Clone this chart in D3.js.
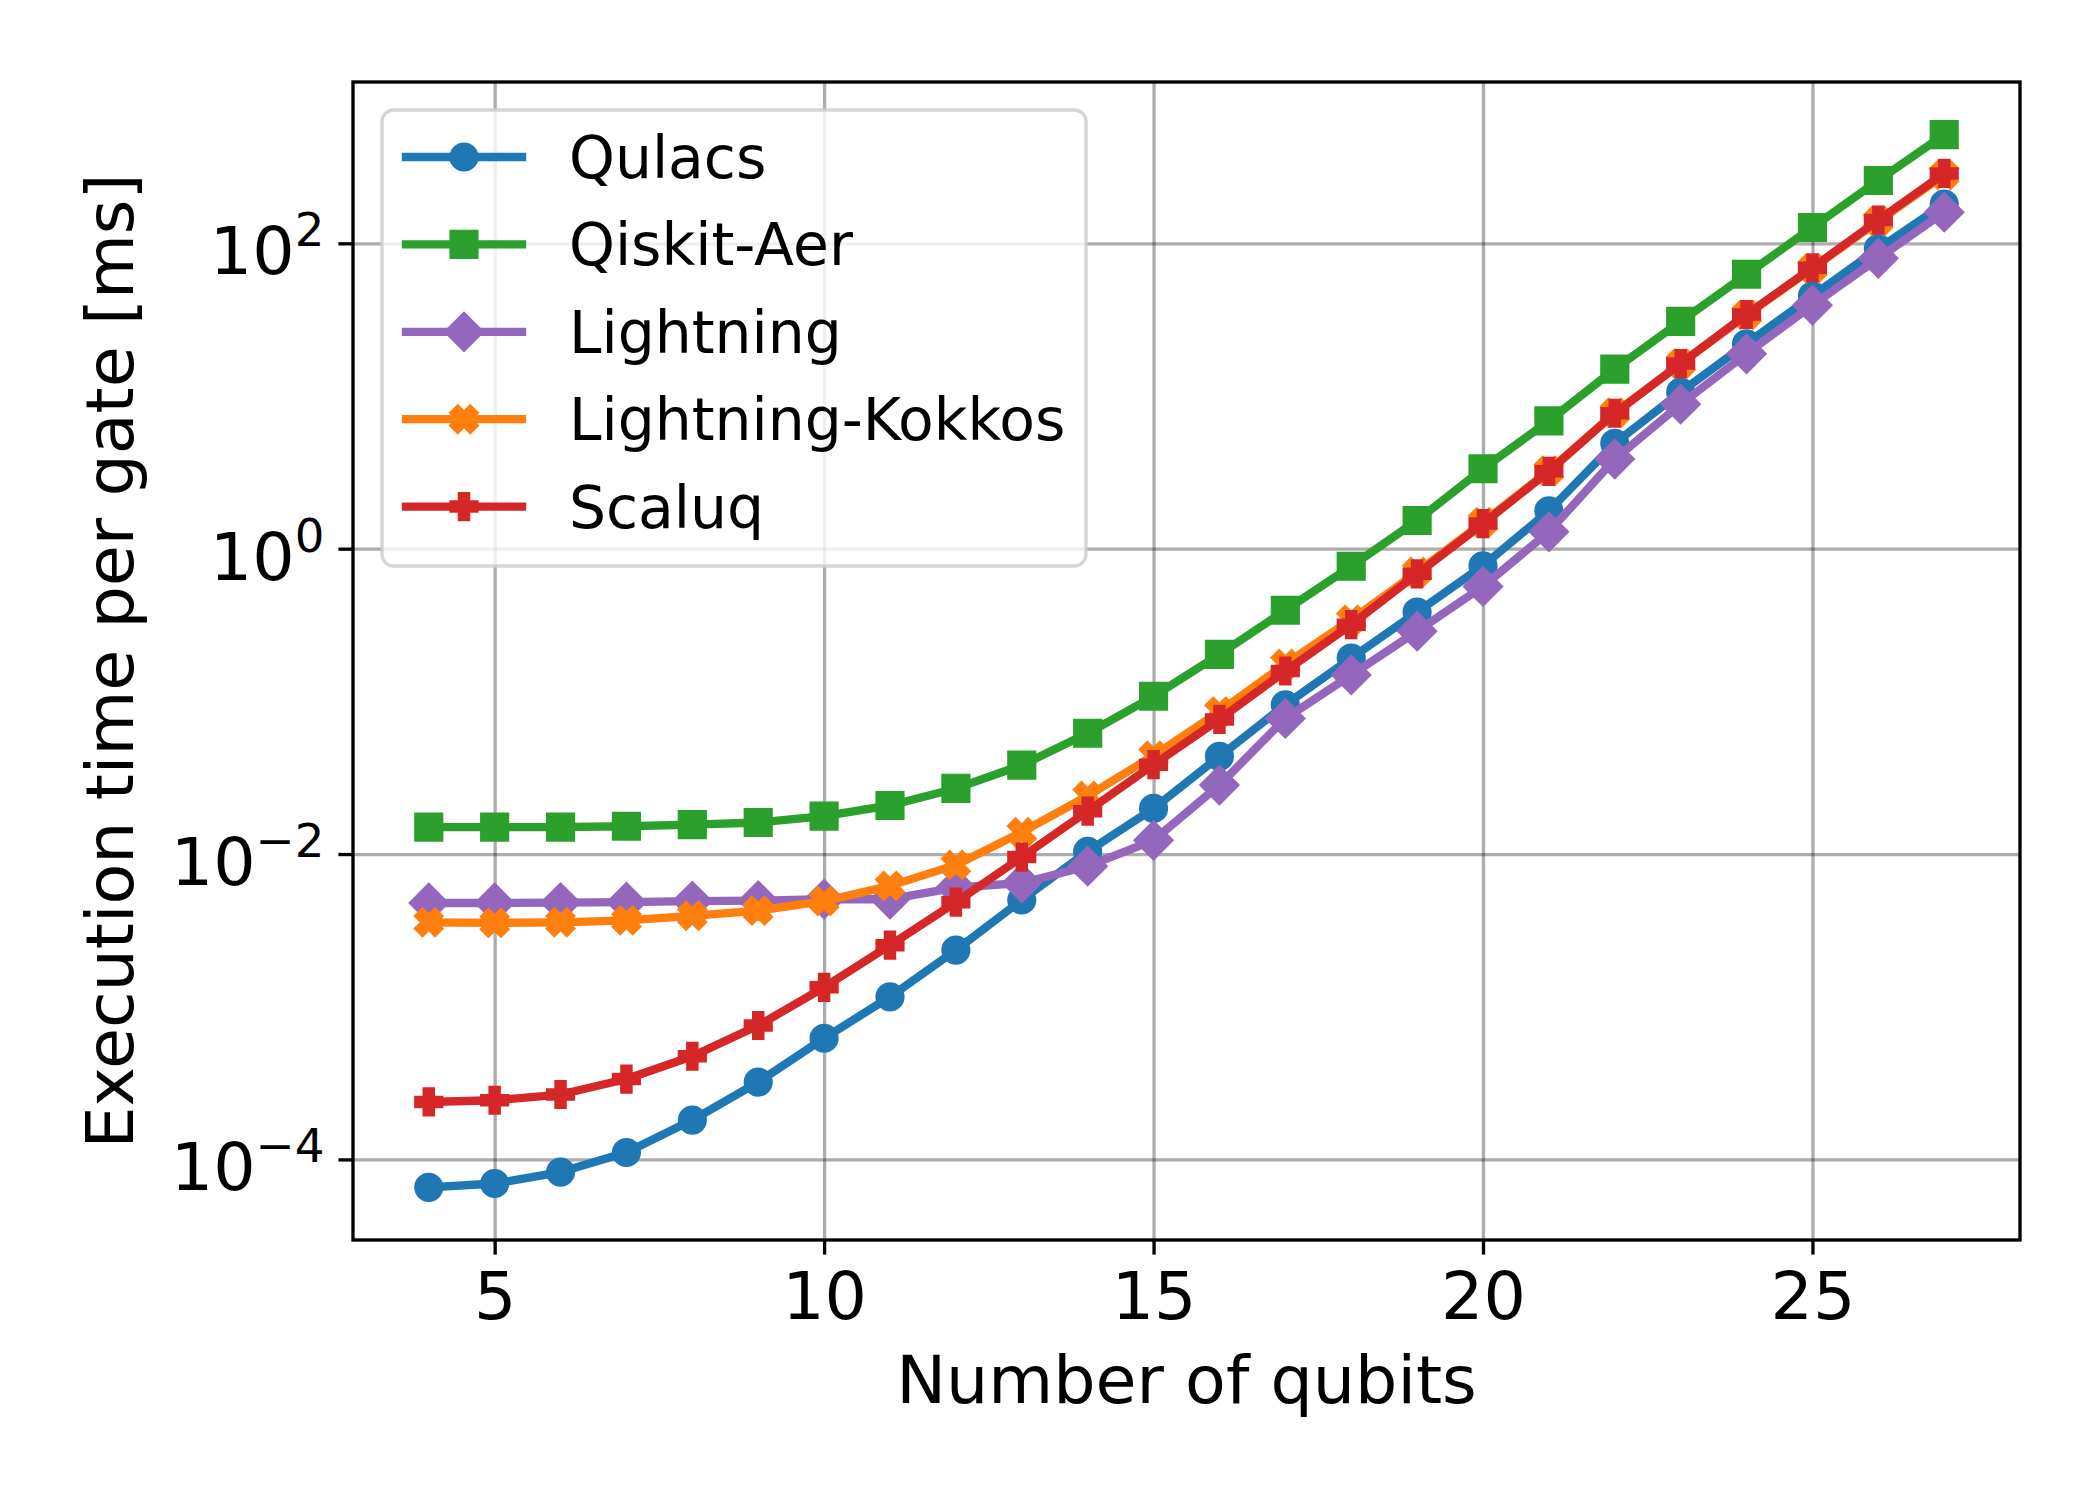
<!DOCTYPE html>
<html>
<head>
<meta charset="utf-8">
<script src="https://cdn.jsdelivr.net/npm/d3@7"></script>
<style>
  html, body { margin: 0; padding: 0; background: #ffffff; }
  svg { display: block; }
</style>
</head>
<body>
<svg id="chart" width="2100" height="1500"></svg>
<script>
// ---------------- DATA (ms) ----------------
const qubits = [4, 5, 6, 7, 8, 9, 10, 11, 12, 13, 14, 15, 16, 17, 18, 19, 20, 21, 22, 23, 24, 25, 26, 27];

const qulacs = [6.56e-5, 6.95e-5, 8.26e-5, 1.11e-4, 1.81e-4, 3.21e-4, 6.22e-4, 1.16e-3, 2.35e-3, 5.0e-3,
                1.04e-2, 1.99e-2, 4.36e-2, 9.5e-2, 0.192, 0.384, 0.773, 1.77, 4.90, 10.6,
                22.0, 45.3, 92.3, 181];

const qiskitAer = [1.50e-2, 1.50e-2, 1.50e-2, 1.52e-2, 1.56e-2, 1.61e-2, 1.77e-2, 2.08e-2, 2.69e-2, 3.82e-2,
                   6.18e-2, 0.108, 0.203, 0.395, 0.767, 1.53, 3.34, 6.87, 15.0, 30.8,
                   62.7, 127, 258, 515];

const lightning = [4.78e-3, 4.78e-3, 4.81e-3, 4.84e-3, 4.92e-3, 4.95e-3, 5.06e-3, 5.06e-3, 6.03e-3, 6.46e-3,
                   8.32e-3, 1.23e-2, 2.83e-2, 7.73e-2, 0.149, 0.288, 0.566, 1.29, 3.86, 8.83,
                   18.9, 39.3, 79.8, 160];

const lightningKokkos = [3.57e-3, 3.54e-3, 3.57e-3, 3.68e-3, 3.94e-3, 4.26e-3, 4.92e-3, 6.19e-3, 8.49e-3, 1.39e-2,
                         2.40e-2, 4.41e-2, 8.57e-2, 0.176, 0.342, 0.703, 1.49, 3.24, 7.76, 16.3,
                         34.0, 68.5, 140, 280];

const scaluq = [2.38e-4, 2.44e-4, 2.66e-4, 3.36e-4, 4.74e-4, 7.53e-4, 1.34e-3, 2.53e-3, 4.84e-3, 9.55e-3,
                1.91e-2, 3.85e-2, 7.62e-2, 0.158, 0.318, 0.684, 1.46, 3.21, 7.71, 16.3,
                34.2, 69.2, 142, 287];

const seriesNames   = ["Qulacs", "Qiskit-Aer", "Lightning", "Lightning-Kokkos", "Scaluq"];
const seriesValues  = [qulacs, qiskitAer, lightning, lightningKokkos, scaluq];
const seriesColors  = ["#1f77b4", "#2ca02c", "#9467bd", "#ff7f0e", "#d62728"];
const seriesMarkers = ["circle", "square", "diamond", "xfilled", "plusfilled"];

const xTickValues = [5, 10, 15, 20, 25];
const yTickExponents = [-4, -2, 0, 2];

const xLabel = "Number of qubits";
const yLabel = "Execution time per gate [ms]";

// ---------------- LAYOUT ----------------
const PT = 300 / 72;               // px per point (figure at 300 dpi)
const plot = { left: 353, right: 2020, top: 82, bottom: 1240 };
const fontFamily = "'DejaVu Sans', 'Liberation Sans', sans-serif";
const tickFont = 16 * PT;
const legendFont = 14 * PT;
const lineW = 2 * PT;
const markerSize = 6 * PT;
const markerEdge = 1 * PT;
const tickLen = 3.5 * PT;
const tickPad = 3.5 * PT;
const spineW = 0.8 * PT;

const svg = d3.select("#chart");
svg.append("rect").attr("width", 2100).attr("height", 1500).attr("fill", "#ffffff");

// ---------------- SCALES (matplotlib-style 5% margins) ----------------
const xMin = d3.min(qubits), xMax = d3.max(qubits);
const xPad = (xMax - xMin) * 0.05;
const x = d3.scaleLinear().domain([xMin - xPad, xMax + xPad]).range([plot.left, plot.right]);

const allVals = seriesValues.flat();
const lMin = Math.log10(d3.min(allVals)), lMax = Math.log10(d3.max(allVals));
const lPad = (lMax - lMin) * 0.05;
const y = d3.scaleLog().domain([Math.pow(10, lMin - lPad), Math.pow(10, lMax + lPad)])
  .range([plot.bottom, plot.top]);

const yTickValues = yTickExponents.map(e => Math.pow(10, e));

// ---------------- GRID ----------------
const gridColor = "#000000";
const gridOpacity = 0.32;
const gridG = svg.append("g").attr("class", "grid");
gridG.append("g")
  .attr("transform", `translate(0,${plot.bottom})`)
  .call(d3.axisBottom(x).tickValues(xTickValues).tickSize(-(plot.bottom - plot.top)).tickFormat(""))
  .call(g => g.select(".domain").remove())
  .call(g => g.selectAll("line").attr("stroke", gridColor).attr("stroke-opacity", gridOpacity).attr("stroke-width", spineW));
gridG.append("g")
  .attr("transform", `translate(${plot.left},0)`)
  .call(d3.axisLeft(y).tickValues(yTickValues).tickSize(-(plot.right - plot.left)).tickFormat(""))
  .call(g => g.select(".domain").remove())
  .call(g => g.selectAll("line").attr("stroke", gridColor).attr("stroke-opacity", gridOpacity).attr("stroke-width", spineW));

// ---------------- MARKERS ----------------
function markerPath(type, s) {
  const h = s / 2;
  if (type === "circle") {
    return `M${h},0A${h},${h} 0 1,1 ${-h},0A${h},${h} 0 1,1 ${h},0Z`;
  }
  if (type === "square") {
    return `M${-h},${-h}L${h},${-h}L${h},${h}L${-h},${h}Z`;
  }
  if (type === "diamond") {
    const d = s * Math.SQRT2 / 2;
    return `M0,${-d}L${d},0L0,${d}L${-d},0Z`;
  }
  if (type === "plusfilled") {
    const pts = [[-1,-3],[1,-3],[1,-1],[3,-1],[3,1],[1,1],[1,3],[-1,3],[-1,1],[-3,1],[-3,-1],[-1,-1]];
    return "M" + pts.map(p => `${p[0] / 6 * s},${p[1] / 6 * s}`).join("L") + "Z";
  }
  if (type === "xfilled") {
    const pts = [[-1,-2],[0,-1],[1,-2],[2,-1],[1,0],[2,1],[1,2],[0,1],[-1,2],[-2,1],[-1,0],[-2,-1]];
    return "M" + pts.map(p => `${p[0] / 4 * s},${p[1] / 4 * s}`).join("L") + "Z";
  }
  return "";
}

// ---------------- SERIES ----------------
svg.append("clipPath").attr("id", "plotClip")
  .append("rect").attr("x", plot.left).attr("y", plot.top)
  .attr("width", plot.right - plot.left).attr("height", plot.bottom - plot.top);

const seriesG = svg.append("g").attr("clip-path", "url(#plotClip)");
const line = d3.line().x(d => x(d.q)).y(d => y(d.v));

seriesNames.forEach((name, i) => {
  const pts = qubits.map((q, j) => ({ q, v: seriesValues[i][j] }));
  const g = seriesG.append("g").attr("class", "series");
  g.append("path")
    .datum(pts)
    .attr("d", line)
    .attr("fill", "none")
    .attr("stroke", seriesColors[i])
    .attr("stroke-width", lineW)
    .attr("stroke-linejoin", "round")
    .attr("stroke-linecap", "square");
  g.selectAll("path.marker")
    .data(pts)
    .join("path")
    .attr("class", "marker")
    .attr("transform", d => `translate(${x(d.q)},${y(d.v)})`)
    .attr("d", markerPath(seriesMarkers[i], markerSize))
    .attr("fill", seriesColors[i])
    .attr("stroke", seriesColors[i])
    .attr("stroke-width", markerEdge)
    .attr("stroke-linejoin", "miter");
});

// ---------------- AXES ----------------
const xAxisG = svg.append("g")
  .attr("transform", `translate(0,${plot.bottom})`)
  .call(d3.axisBottom(x).tickValues(xTickValues).tickSize(tickLen).tickPadding(tickPad).tickFormat(d3.format("d")));
xAxisG.select(".domain").remove();
xAxisG.selectAll(".tick line").attr("stroke", "#000").attr("stroke-width", spineW);
xAxisG.selectAll(".tick text")
  .attr("fill", "#000")
  .attr("font-family", fontFamily)
  .attr("font-size", tickFont)
  .attr("dy", "0.75em");

const yAxisG = svg.append("g")
  .attr("transform", `translate(${plot.left},0)`)
  .call(d3.axisLeft(y).tickValues(yTickValues).tickSize(tickLen).tickPadding(tickPad).tickFormat(""));
yAxisG.select(".domain").remove();
yAxisG.selectAll(".tick line").attr("stroke", "#000").attr("stroke-width", spineW);
yAxisG.selectAll(".tick text")
  .attr("fill", "#000")
  .attr("font-family", fontFamily)
  .attr("font-size", tickFont)
  .attr("text-anchor", "end")
  .attr("x", -(tickLen + tickPad) + 0.5)
  .attr("dy", 30.5)
  .each(function(d) {
    const t = d3.select(this);
    t.text(null);
    const e = Math.round(Math.log10(d));
    t.append("tspan").text("10");
    t.append("tspan")
      .attr("dy", -28)
      .attr("font-size", tickFont * 0.7)
      .text(e < 0 ? "\u2212" + Math.abs(e) : String(e));
  });

// spines
svg.append("rect")
  .attr("x", plot.left).attr("y", plot.top)
  .attr("width", plot.right - plot.left).attr("height", plot.bottom - plot.top)
  .attr("fill", "none").attr("stroke", "#000").attr("stroke-width", spineW)
  .attr("stroke-linejoin", "miter");

// axis labels
svg.append("text")
  .attr("x", (plot.left + plot.right) / 2)
  .attr("y", 1402.5)
  .attr("text-anchor", "middle")
  .attr("font-family", fontFamily)
  .attr("font-size", tickFont)
  .attr("fill", "#000")
  .text(xLabel);

svg.append("text")
  .attr("transform", `translate(133,${(plot.top + plot.bottom) / 2}) rotate(-90)`)
  .attr("text-anchor", "middle")
  .attr("font-family", fontFamily)
  .attr("font-size", tickFont)
  .attr("fill", "#000")
  .text(yLabel);

// ---------------- LEGEND ----------------
const legend = { x: 382, y: 110, w: 704, h: 456, rowY0: 157, rowStep: 87.4,
                 lineX0: 406, lineX1: 522, textX: 569 };
const legG = svg.append("g").attr("class", "legend");
legG.append("rect")
  .attr("x", legend.x).attr("y", legend.y)
  .attr("width", legend.w).attr("height", legend.h)
  .attr("rx", 0.2 * legendFont).attr("ry", 0.2 * legendFont)
  .attr("fill", "#ffffff").attr("fill-opacity", 0.8)
  .attr("stroke", "#cccccc").attr("stroke-opacity", 0.8)
  .attr("stroke-width", spineW);

seriesNames.forEach((name, i) => {
  const cy = legend.rowY0 + i * legend.rowStep;
  const row = legG.append("g");
  row.append("line")
    .attr("x1", legend.lineX0).attr("x2", legend.lineX1)
    .attr("y1", cy).attr("y2", cy)
    .attr("stroke", seriesColors[i]).attr("stroke-width", lineW)
    .attr("stroke-linecap", "square");
  row.append("path")
    .attr("transform", `translate(${(legend.lineX0 + legend.lineX1) / 2},${cy})`)
    .attr("d", markerPath(seriesMarkers[i], markerSize))
    .attr("fill", seriesColors[i])
    .attr("stroke", seriesColors[i])
    .attr("stroke-width", markerEdge)
    .attr("stroke-linejoin", "miter");
  row.append("text")
    .attr("x", legend.textX)
    .attr("y", cy + 21)
    .attr("font-family", fontFamily)
    .attr("font-size", legendFont)
    .attr("fill", "#000")
    .text(name);
});
</script>
</body>
</html>
